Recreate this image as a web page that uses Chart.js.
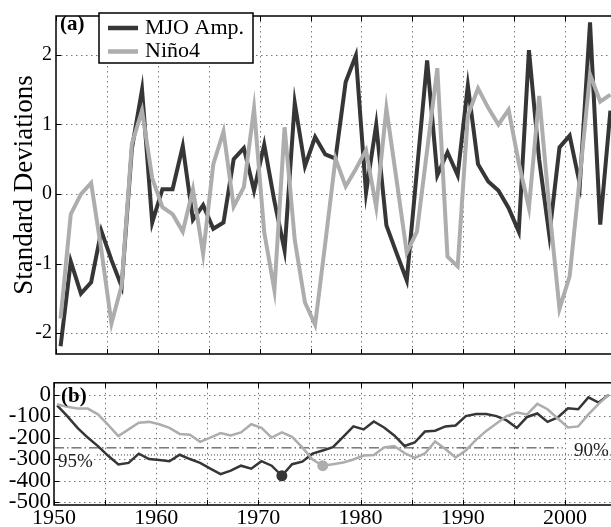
<!DOCTYPE html>
<html><head><meta charset="utf-8">
<script src="https://cdn.jsdelivr.net/npm/chart.js@4.4.0/dist/chart.umd.min.js"></script>
<style>
html,body{margin:0;padding:0;background:#fff;overflow:hidden;width:611px;height:527px}
#wrap{position:relative;width:611px;height:527px;overflow:hidden;background:#fff}
canvas{position:absolute;left:0}
#fontprobe{position:absolute;left:-9999px;top:0;font-family:"Liberation Serif";font-size:20px}
#fontprobe b{font-weight:bold}
</style></head><body>
<div id="fontprobe">Standard Deviations 0123456789 <b>(a)(b)</b></div>
<div id="wrap">
<canvas id="topChart" width="620" height="370" style="top:0"></canvas>
<canvas id="botChart" width="620" height="161" style="top:366px"></canvas>
</div>
<script>
// ---------------- data ----------------
const years = [1950,1951,1952,1953,1954,1955,1956,1957,1958,1959,
  1960,1961,1962,1963,1964,1965,1966,1967,1968,1969,
  1970,1971,1972,1973,1974,1975,1976,1977,1978,1979,
  1980,1981,1982,1983,1984,1985,1986,1987,1988,1989,
  1990,1991,1992,1993,1994,1995,1996,1997,1998,1999,
  2000,2001,2002,2003,2004];
const seriesNames = ['MJO Amp.', 'Niño4'];
const mjoAmp = [-2.19,-0.97,-1.43,-1.27,-0.53,-0.95,-1.33,0.65,1.50,-0.41,
  0.07,0.07,0.69,-0.37,-0.16,-0.50,-0.41,0.50,0.66,0.05,
  0.71,-0.10,-0.81,1.31,0.40,0.82,0.57,0.51,1.61,1.99,
  0.02,1.00,-0.45,-0.85,-1.24,0.34,1.92,0.27,0.60,0.27,
  1.56,0.43,0.18,0.05,-0.20,-0.54,2.07,0.50,-0.59,0.67,
  0.84,0.14,2.47,-0.44,1.20];
const nino4 = [-1.79,-0.29,0.00,0.16,-0.80,-1.86,-1.31,0.72,1.20,0.23,
  -0.19,-0.29,-0.54,0.07,-0.86,0.43,0.90,-0.18,0.10,1.23,
  -0.55,-1.38,0.96,-0.66,-1.56,-1.88,-0.70,0.51,0.11,0.36,
  0.63,-0.19,1.23,0.20,-0.84,-0.54,0.63,1.81,-0.90,-1.04,
  1.13,1.52,1.24,1.00,1.21,0.45,-0.20,1.41,-0.20,-1.65,
  -1.18,0.25,1.72,1.33,1.43];
const mjoCum = [-50,-100,-155,-200,-240,-285,-325,-318,-275,-300,
  -305,-310,-280,-300,-318,-345,-370,-354,-331,-345,
  -310,-331,-378,-324,-312,-275,-260,-245,-197,-148,
  -162,-125,-153,-190,-239,-223,-172,-168,-148,-144,
  -100,-90,-90,-100,-120,-155,-104,-88,-127,-106,
  -64,-68,-13,-37,-1];
const ninoCum = [-45,-57,-65,-65,-92,-141,-193,-162,-131,-127,
  -138,-155,-183,-187,-220,-200,-179,-190,-176,-138,
  -155,-200,-176,-197,-246,-302,-331,-324,-316,-302,
  -284,-281,-246,-239,-272,-295,-274,-218,-253,-293,
  -260,-211,-169,-134,-100,-83,-92,-43,-68,-111,
  -153,-148,-92,-43,0];
const xTicks = [1950,1955,1960,1965,1970,1975,1980,1985,1990,1995,2000,2005];
const xLabelYears = [1950,1960,1970,1980,1990,2000];
const topYTicks = [-2,-1,0,1,2];
const botYTicks = [0,-100,-200,-300,-400,-500];
const sig90 = -248, sig95 = -281;
const sig90Span = [1950, 1999.8];
const sig95Span = [1954.2, 2005];
const sigLabels = ['90%', '95%'];
const panelLabels = ['(a)', '(b)'];
const yTitle = 'Standard Deviations';
const mjoMarkYear = 1972, ninoMarkYear = 1976;

// ---------------- styles ----------------
const FONT = '"Liberation Serif", "Times New Roman", Tinos, serif';
const DARK = '#363636', LIGHT = '#adadad';
const TOP_OFF = 0.45, BOT_OFF = 0.3;

const framePlugin = {
  id: 'frame',
  beforeDatasetsDraw(chart) {
    const {ctx, chartArea: a, scales: {x, y}} = chart;
    ctx.save();
    ctx.strokeStyle = '#777'; ctx.lineWidth = 1; ctx.setLineDash([1.5, 3.5]);
    ctx.beginPath();
    x.ticks.forEach(t => { const px = Math.round(x.getPixelForValue(t.value)) + 0.5;
      if (px > a.left + 2 && px < a.right - 2) { ctx.moveTo(px, a.top); ctx.lineTo(px, a.bottom); } });
    y.ticks.forEach(t => { const py = Math.round(y.getPixelForValue(t.value)) + 0.5;
      if (py > a.top + 2 && py < a.bottom - 2) { ctx.moveTo(a.left, py); ctx.lineTo(a.right, py); } });
    ctx.stroke(); ctx.restore();
  },
  afterDatasetsDraw(chart) {
    const {ctx, chartArea: a, scales: {x, y}} = chart;
    ctx.save();
    ctx.strokeStyle = '#000'; ctx.lineWidth = 1;
    ctx.beginPath();
    x.ticks.forEach(t => { const px = Math.round(x.getPixelForValue(t.value)) + 0.5;
      ctx.moveTo(px, a.top); ctx.lineTo(px, a.top + 5);
      ctx.moveTo(px, a.bottom); ctx.lineTo(px, a.bottom - 5); });
    y.ticks.forEach(t => { const py = Math.round(y.getPixelForValue(t.value)) + 0.5;
      ctx.moveTo(a.left, py); ctx.lineTo(a.left + 5, py); });
    ctx.stroke();
    ctx.lineWidth = 1.5;
    ctx.strokeRect(a.left, a.top, a.right - a.left, a.bottom - a.top);
    ctx.restore();
  }
};

const topAnnot = {
  id: 'topAnnot',
  afterDraw(chart) {
    const ctx = chart.ctx;
    ctx.save();
    ctx.fillStyle = '#000';
    ctx.font = 'bold 21px ' + FONT; ctx.textBaseline = 'middle'; ctx.textAlign = 'left';
    ctx.fillText(panelLabels[0], 60, 25);
    ctx.fillStyle = '#fff';
    ctx.fillRect(99, 13, 154, 50);
    ctx.strokeStyle = '#000'; ctx.lineWidth = 1.5;
    ctx.strokeRect(99, 13, 154, 50);
    const items = [[seriesNames[0], DARK, 28], [seriesNames[1], LIGHT, 51.5]];
    items.forEach(([lab, col, yy]) => {
      ctx.strokeStyle = col; ctx.lineWidth = 4.5;
      ctx.beginPath(); ctx.moveTo(108, yy); ctx.lineTo(138, yy); ctx.stroke();
      ctx.fillStyle = '#000'; ctx.font = '22px ' + FONT;
      ctx.fillText(lab, 145, yy);
    });
    ctx.restore();
  }
};

const botAnnot = {
  id: 'botAnnot',
  afterDraw(chart) {
    const ctx = chart.ctx;
    const y = chart.scales.y;
    ctx.save();
    ctx.fillStyle = '#000';
    ctx.textBaseline = 'middle'; ctx.textAlign = 'left';
    ctx.font = 'bold 21px ' + FONT;
    ctx.fillText(panelLabels[1], 61, y.getPixelForValue(0) + 2);
    ctx.fillStyle = '#222';
    ctx.font = '19px ' + FONT;
    ctx.fillText(sigLabels[1], 58, y.getPixelForValue(sig95) + 7);
    ctx.fillText(sigLabels[0], 574, y.getPixelForValue(sig90) + 3);
    ctx.restore();
  }
};

const ticksFrom = arr => (s => { s.ticks = arr.map(v => ({value: v})); });

function build() {
  Chart.defaults.font.family = FONT;
  new Chart(document.getElementById('topChart'), {
    type: 'line',
    data: { datasets: [
      { label: seriesNames[0], data: years.map((yr, i) => ({x: yr + TOP_OFF, y: mjoAmp[i]})),
        borderColor: DARK, borderWidth: 4, pointRadius: 0, tension: 0, order: 1 },
      { label: seriesNames[1], data: years.map((yr, i) => ({x: yr + TOP_OFF, y: nino4[i]})),
        borderColor: LIGHT, borderWidth: 4, pointRadius: 0, tension: 0, order: 0 }
    ]},
    options: {
      responsive: false, animation: false, devicePixelRatio: 1,
      layout: { padding: { top: 8, right: 4, bottom: 4, left: 0 } },
      plugins: { legend: { display: false }, tooltip: { enabled: false } },
      scales: {
        x: { type: 'linear', min: 1950, max: 2005,
          grid: { display: false }, border: { display: false },
          ticks: { display: false },
          afterBuildTicks: ticksFrom(xTicks),
          afterFit: s => { s.height = 0; } },
        y: { type: 'linear', min: -2.3, max: 2.56,
          grid: { display: false, drawTicks: false }, border: { display: false },
          ticks: { font: { family: FONT, size: 20 }, color: '#000', padding: 4, autoSkip: false },
          afterBuildTicks: ticksFrom(topYTicks),
          title: { display: true, text: yTitle, color: '#000',
            font: { family: FONT, size: 27 }, padding: { top: 9, bottom: 0 } },
          afterFit: s => { s.width = 56; } }
      }
    },
    plugins: [framePlugin, topAnnot]
  });

  const mjoMarkIdx = years.indexOf(mjoMarkYear);
  const ninoMarkIdx = years.indexOf(ninoMarkYear);

  new Chart(document.getElementById('botChart'), {
    type: 'line',
    data: { datasets: [
      { label: sigLabels[0], data: sig90Span.map(v => ({x: v, y: sig90})),
        borderColor: '#333', borderWidth: 1, borderDash: [10, 3, 1.5, 3], pointRadius: 0, order: 3 },
      { label: sigLabels[1], data: sig95Span.map(v => ({x: v, y: sig95})),
        borderColor: '#333', borderWidth: 1, borderDash: [1, 2], pointRadius: 0, order: 2 },
      { label: seriesNames[0], data: years.map((yr, i) => ({x: yr + BOT_OFF, y: mjoCum[i]})),
        borderColor: DARK, borderWidth: 2.5, tension: 0, order: 1,
        pointRadius: c => c.dataIndex === mjoMarkIdx ? 5.5 : 0,
        pointBackgroundColor: DARK, pointBorderColor: DARK, pointBorderWidth: 0 },
      { label: seriesNames[1], data: years.map((yr, i) => ({x: yr + BOT_OFF, y: ninoCum[i]})),
        borderColor: LIGHT, borderWidth: 2.5, tension: 0, order: 0,
        pointRadius: c => c.dataIndex === ninoMarkIdx ? 5.5 : 0,
        pointBackgroundColor: LIGHT, pointBorderColor: LIGHT, pointBorderWidth: 0 }
    ]},
    options: {
      responsive: false, animation: false, devicePixelRatio: 1,
      layout: { padding: { top: 4, right: 4, bottom: 0, left: 0 } },
      plugins: { legend: { display: false }, tooltip: { enabled: false } },
      scales: {
        x: { type: 'linear', min: 1950, max: 2005,
          grid: { display: false, drawTicks: false }, border: { display: false },
          ticks: { font: { family: FONT, size: 22 }, color: '#000', padding: 0,
            autoSkip: false, maxRotation: 0,
            callback: v => xLabelYears.includes(v) ? String(v) : '' },
          afterBuildTicks: ticksFrom(xTicks),
          afterFit: s => { s.height = 22; } },
        y: { type: 'linear', min: -514, max: 55,
          grid: { display: false, drawTicks: false }, border: { display: false },
          ticks: { font: { family: FONT, size: 23 }, color: '#000', padding: 3, autoSkip: false },
          afterBuildTicks: ticksFrom(botYTicks),
          afterFit: s => { s.width = 54; } }
      }
    },
    plugins: [framePlugin, botAnnot]
  });
}

const fontLoads = ['19px "Liberation Serif"', '22px "Liberation Serif"', 'bold 21px "Liberation Serif"']
  .map(f => document.fonts.load(f).catch(() => null));
Promise.all(fontLoads).then(build, build);
</script>
</body></html>
